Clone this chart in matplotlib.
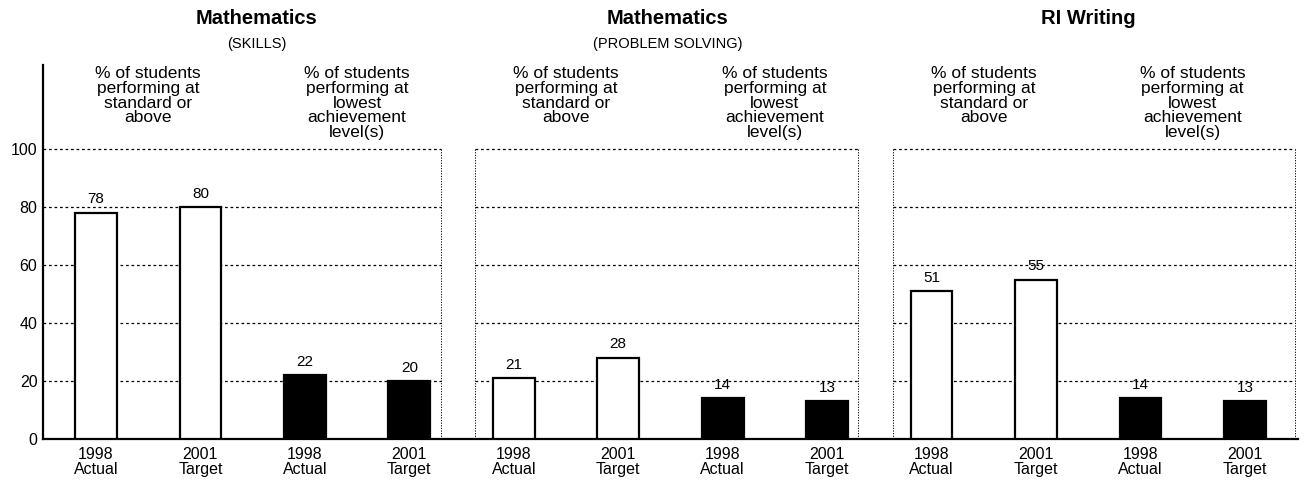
import matplotlib
matplotlib.use("Agg")
import matplotlib.pyplot as plt
import numpy as np

plt.rcParams['font.family'] = ['Liberation Sans', 'DejaVu Sans']

# ---- data ----
panel_titles = ["Mathematics", "Mathematics", "RI Writing"]
panel_subtitles = ["(SKILLS)", "(PROBLEM SOLVING)", ""]
group_notes = ["% of students\nperforming at\nstandard or\nabove",
               "% of students\nperforming at\nlowest\nachievement\nlevel(s)"]
bar_labels = ["1998\nActual", "2001\nTarget", "1998\nActual", "2001\nTarget"]
math_skills = [78, 80, 22, 20]
math_problem = [21, 28, 14, 13]
ri_writing = [51, 55, 14, 13]
bar_fill = ["white", "white", "black", "black"]
y_ticks = [0, 20, 40, 60, 80, 100]

panels = [math_skills, math_problem, ri_writing]

fig = plt.figure(figsize=(13.06, 4.84), dpi=100)
ax = fig.add_axes([43/1306, 1-439/484, (1298-43)/1306, (439-65)/484])

x_left, x_right = -0.507, 11.508
ax.set_xlim(x_left, x_right)
ax.set_ylim(0, 129)

panel_bounds = [(x_left, 3.30), (3.63, 7.30), (7.63, 11.48)]
width = 0.40

for p, vals in enumerate(panels):
    xs = np.arange(4) + 4 * p
    lo, hi = panel_bounds[p]
    # gridlines within panel
    ax.hlines(y_ticks[1:], lo, hi, colors='black', linestyles=(0, (2.2, 2.2)),
              linewidth=0.9, zorder=1)
    # panel border verticals
    for bx in (lo, hi):
        if bx == x_left:
            continue
        ax.vlines(bx, 0, 100, colors='black', linestyles=(0, (1.2, 1.5)),
                  linewidth=0.7, zorder=1)
    ax.bar(xs, vals, width=width, color=bar_fill, edgecolor='black',
           linewidth=1.6, zorder=3)
    for x, v in zip(xs, vals):
        ax.text(x, v + 2.2, str(v), ha='center', va='bottom', fontsize=11, zorder=4)
    # notes
    ax.text(xs[0] + 0.5, 128.6, group_notes[0], ha='center', va='top',
            fontsize=12.5, linespacing=0.98, zorder=4)
    ax.text(xs[2] + 0.5, 128.6, group_notes[1], ha='center', va='top',
            fontsize=12.5, linespacing=0.98, zorder=4)
    # titles
    cx = [1.54, 5.47, 9.50][p]
    ax.text(cx, 145, panel_titles[p], ha='center', va='center',
            fontsize=14.5, fontweight='bold', clip_on=False)
    if panel_subtitles[p]:
        ax.text(cx, 136.3, panel_subtitles[p], ha='center', va='center',
                fontsize=10.5, clip_on=False)

xs_all = np.arange(12)
ax.set_xticks(xs_all)
ax.set_xticklabels(bar_labels * 3, fontsize=11.5, linespacing=1.0)
ax.tick_params(axis='x', length=0, pad=6)
ax.set_yticks(y_ticks)
ax.set_yticklabels([str(t) for t in y_ticks], fontsize=11.5)
ax.tick_params(axis='y', length=0, pad=4)

for s in ['top', 'right']:
    ax.spines[s].set_visible(False)
ax.spines['left'].set_linewidth(1.6)
ax.spines['bottom'].set_linewidth(1.6)

fig.savefig("out.png", dpi=100)
